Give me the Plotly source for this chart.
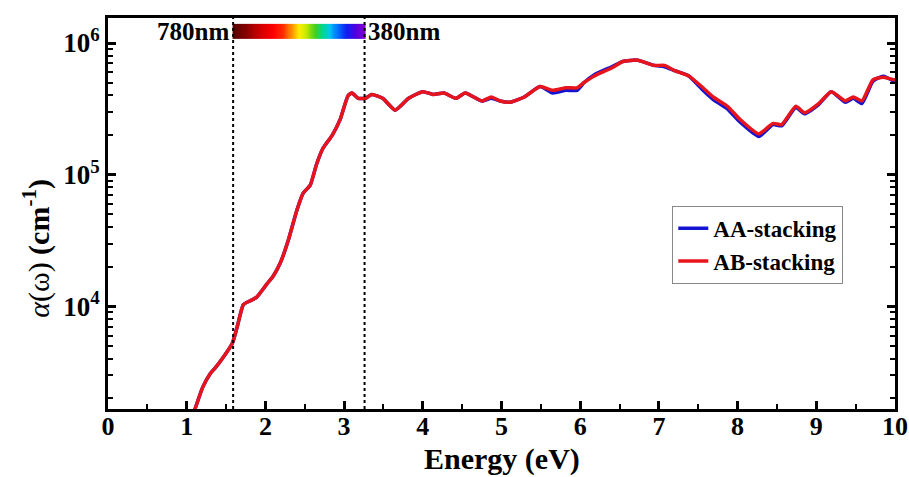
import numpy as np
import plotly.graph_objects as go

# Photon energy grid (eV) and absorption coefficients (cm^-1)
energy_ev = [1.05, 1.105, 1.20, 1.30, 1.36, 1.46, 1.58, 1.64, 1.72, 1.80, 1.89,
             2.02, 2.10, 2.19, 2.29, 2.40, 2.48, 2.57, 2.65, 2.73, 2.85, 2.95,
             3.05, 3.10, 3.18, 3.27, 3.35, 3.49, 3.65, 3.82, 4.00, 4.13, 4.27,
             4.42, 4.54, 4.75, 4.87, 4.98, 5.11, 5.29, 5.49, 5.65, 5.82, 5.96,
             6.05, 6.18, 6.40, 6.54, 6.73, 6.94, 7.07, 7.20, 7.38, 7.56, 7.69,
             7.87, 8.03, 8.27, 8.45, 8.56, 8.74, 8.85, 9.03, 9.19, 9.37, 9.47,
             9.58, 9.72, 9.85, 9.99, 10.0]

alpha_ab = [1410, 1660, 2400, 3090, 3390, 4070, 5250, 6920, 10300, 10960, 11750,
            14800, 17000, 21400, 31600, 53700, 72400, 83200, 120000, 158000, 200000, 263000,
            398000, 417000, 380000, 380000, 407000, 380000, 309000, 380000, 427000, 407000, 417000,
            380000, 417000, 363000, 389000, 363000, 355000, 389000, 468000, 437000, 457000, 457000,
            501000, 562000, 646000, 724000, 741000, 676000, 676000, 617000, 562000, 457000, 389000,
            331000, 263000, 204000, 245000, 240000, 331000, 295000, 347000, 427000, 363000, 389000,
            363000, 525000, 550000, 525000, 525000]

alpha_aa = [1410, 1660, 2400, 3090, 3390, 4070, 5250, 6920, 10300, 10960, 11750,
            14800, 17000, 21400, 31600, 53700, 72400, 83200, 120000, 158000, 200000, 263000,
            398000, 417000, 380000, 380000, 407000, 380000, 309000, 380000, 427000, 407000, 417000,
            380000, 417000, 363000, 380000, 363000, 355000, 389000, 468000, 417000, 437000, 437000,
            501000, 575000, 660000, 724000, 741000, 676000, 661000, 617000, 562000, 437000, 372000,
            316000, 251000, 195000, 240000, 235000, 324000, 290000, 340000, 427000, 355000, 380000,
            347000, 513000, 560000, 510000, 505000]

# Visible window: 780 nm -> 380 nm expressed in eV
vis_low_ev = 1.59
vis_high_ev = 3.26

serif = "Liberation Serif"

fig = go.Figure()

# Visible spectrum strip drawn as a heatmap on a hidden linear overlay axis
spectrum_scale = [
    [0.00, "#5a0000"], [0.10, "#8a0000"], [0.20, "#d00000"], [0.30, "#ff0000"],
    [0.38, "#ff3000"], [0.44, "#ff9000"], [0.50, "#ffee00"], [0.56, "#b8e800"],
    [0.62, "#40d020"], [0.68, "#00d890"], [0.73, "#00c8f0"], [0.79, "#0070ff"],
    [0.86, "#1020f0"], [0.93, "#5000e0"], [1.00, "#8a00c8"],
]
strip_x = np.linspace(vis_low_ev, vis_high_ev, 121)
fig.add_trace(go.Heatmap(
    x=strip_x, y=[0.947, 0.985], z=[list(np.linspace(0, 1, 121))],
    colorscale=spectrum_scale, showscale=False, zsmooth="best",
    xaxis="x", yaxis="y2", hoverinfo="skip",
))

fig.add_trace(go.Scatter(
    x=energy_ev, y=alpha_aa, mode="lines", name="AA-stacking",
    line=dict(color="#1414d2", width=3.5, shape="spline", smoothing=0.5),
))
fig.add_trace(go.Scatter(
    x=energy_ev, y=alpha_ab, mode="lines", name="AB-stacking",
    line=dict(color="#e8141c", width=3.5, shape="spline", smoothing=0.5),
))

# Dotted boundaries of the visible range
for xv in (vis_low_ev, vis_high_ev):
    fig.add_shape(type="line", xref="x", yref="paper", x0=xv, x1=xv, y0=0, y1=1,
                  line=dict(color="black", width=2, dash="dot"), layer="above")

fig.add_annotation(x=vis_low_ev, y=0.966, xref="x", yref="paper", text="<b>780nm</b>",
                   showarrow=False, xanchor="right", yanchor="middle", xshift=-2,
                   font=dict(family=serif, size=25, color="black"))
fig.add_annotation(x=vis_high_ev, y=0.966, xref="x", yref="paper", text="<b>380nm</b>",
                   showarrow=False, xanchor="left", yanchor="middle", xshift=1,
                   font=dict(family=serif, size=25, color="black"))

# Axis titles
fig.add_annotation(x=0.5, y=-0.128, xref="paper", yref="paper", text="<b>Energy (eV)</b>",
                   showarrow=False, xanchor="center", yanchor="middle",
                   font=dict(family=serif, size=30, color="black"))
fig.add_annotation(x=-0.090, y=0.41, xref="paper", yref="paper",
                   text="<i>α</i>(ω) <b>(cm<sup>-1</sup>)</b>", textangle=-90,
                   showarrow=False, xanchor="center", yanchor="middle",
                   font=dict(family=serif, size=30, color="black"))

major_y = [1e4, 1e5, 1e6]
minor_y = [m * 10 ** d for d in (3, 4, 5, 6) for m in range(2, 10)]

fig.update_layout(
    width=909, height=477,
    margin=dict(l=108, r=14, t=18, b=68, autoexpand=False),
    paper_bgcolor="white", plot_bgcolor="white",
    font=dict(family=serif, color="black"),
    showlegend=True,
    legend=dict(x=0.717, y=0.52, xanchor="left", yanchor="top",
                bgcolor="white", bordercolor="#888888", borderwidth=1,
                font=dict(family=serif, size=23, color="black", weight="bold"),
                itemwidth=30, tracegroupgap=0),
    xaxis=dict(
        range=[0, 10], dtick=1, tick0=0, showgrid=False, zeroline=False,
        showline=True, linecolor="black", linewidth=3, mirror=True, automargin=False,
        ticks="inside", ticklen=8, tickwidth=2.5, tickcolor="black",
        minor=dict(dtick=0.5, ticks="inside", ticklen=5, tickwidth=2, tickcolor="black"),
        tickfont=dict(family=serif, size=26, color="black", weight="bold"),
        ticklabelstandoff=-8,
    ),
    yaxis=dict(
        type="log", range=[3.22, 6.19], showgrid=False, zeroline=False,
        showline=True, linecolor="black", linewidth=3, mirror="ticks", automargin=False,
        tickvals=major_y, ticktext=["10<sup>4</sup>", "10<sup>5</sup>", "10<sup>6</sup>"],
        ticks="inside", ticklen=8, tickwidth=2.5, tickcolor="black",
        minor=dict(tickvals=minor_y, ticks="inside", ticklen=5, tickwidth=2, tickcolor="black"),
        tickfont=dict(family=serif, size=27, color="black", weight="bold"),
    ),
    yaxis2=dict(range=[0, 1], overlaying="y", visible=False, fixedrange=True),
)

fig.write_html("out.html")
